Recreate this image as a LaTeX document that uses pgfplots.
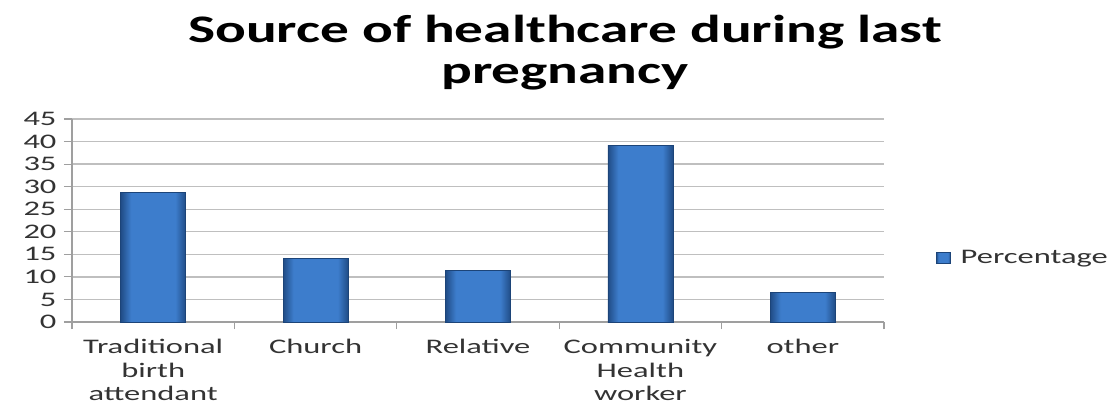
\documentclass[border=0pt]{standalone}
\usepackage{graphicx}
\usepackage{pgfplots}
\pgfplotsset{compat=1.18}
\usepackage{fontspec}
\setmainfont{Carlito}
\definecolor{barmid}{HTML}{3D7DCC}
\definecolor{baredge}{HTML}{204C86}
\definecolor{barline}{HTML}{1C4478}
\definecolor{txt}{HTML}{333333}
\pgfdeclarehorizontalshading{barshade}{100bp}{color(0bp)=(baredge); color(25bp)=(baredge); color(33bp)=(barmid); color(67bp)=(barmid); color(75bp)=(baredge); color(100bp)=(baredge)}
\newcommand\W[1]{\scalebox{1.57}[1]{#1}}
\newcommand\T[1]{\scalebox{1.47}[1]{#1}}
\begin{document}
\begin{tikzpicture}
\begin{axis}[
  at={(72pt,83pt)}, anchor=south west,
  scale only axis, width=812pt, height=203pt,
  xmin=-0.5, xmax=4.5, ymin=0, ymax=45,
  ybar, bar width=65pt, bar shift=0pt,
  axis x line=bottom, axis y line=left,
  axis line style={-, draw=gray!75, line width=1.2pt},
  ytick={0,5,...,45},
  yticklabel={\W{\pgfmathprintnumber{\tick}}},
  xtick={0,1,2,3,4},
  xticklabels={{\W{Traditional}\\\W{birth}\\\W{attendant}},{\W{Church}},{\W{Relative}},{\W{Community}\\\W{Health}\\\W{worker}},{\W{other}}},
  x tick label style={align=center, font=\fontsize{20.7}{23.5}\selectfont, text=txt, yshift=-6pt},
  y tick label style={font=\fontsize{20.7}{23}\selectfont, text=txt, xshift=-4pt},
  /pgf/number format/assume math mode=true,
  major x tick style={draw=none},
  minor xtick={-0.5,0.5,1.5,2.5,3.5,4.5},
  minor x tick style={draw=gray!75, line width=1.2pt},
  minor tick length=7pt,
  tick align=outside,
  major y tick style={draw=gray!75, line width=1.2pt},
  major tick length=8pt,
  ymajorgrids, grid style={draw=gray!50, line width=1.3pt},
  legend style={draw=none, fill=none, at={(1.06,0.315)}, anchor=west, font=\fontsize{20.7}{23}\selectfont, text=txt},
  legend image code/.code={\draw[barline, shade, shading=barshade] (0pt,-5.5pt) rectangle (14pt,5.5pt);},
  barstyle/.style={draw=barline, line width=0.8pt, shade, shading=barshade},
]
\addplot[barstyle] coordinates {(0,28.7)};
\addlegendentry{\hspace{8pt}\W{Percentage}}
\addplot[barstyle, forget plot] coordinates {(1,14.0)};
\addplot[barstyle, forget plot] coordinates {(2,11.5)};
\addplot[barstyle, forget plot] coordinates {(3,39.2)};
\addplot[barstyle, forget plot] coordinates {(4,6.6)};
\end{axis}
\node[font=\bfseries\fontsize{39}{42}\selectfont, text=black, anchor=base] at (565pt,362pt) {\T{Source of healthcare during last}};
\node[font=\bfseries\fontsize{39}{42}\selectfont, text=black, anchor=base] at (565pt,321pt) {\T{pregnancy}};
\pgfresetboundingbox
\path (0,0) rectangle (1107pt,405pt);
\end{tikzpicture}
\end{document}
